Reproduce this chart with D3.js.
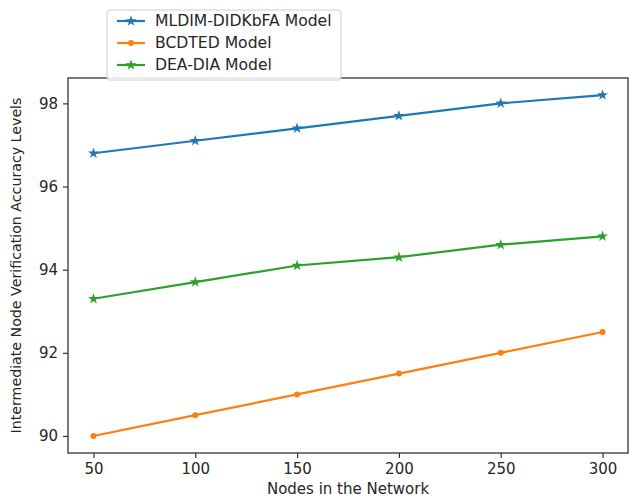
<!DOCTYPE html>
<html>
<head>
<meta charset="utf-8">
<script src="https://cdn.jsdelivr.net/npm/d3@7"></script>
<style>
  body { margin: 0; background: #fff; }
  text { font-family: "DejaVu Sans", sans-serif; fill: #262626; }
</style>
</head>
<body>
<svg width="632" height="498"></svg>
<script>
// data
const nodes = [50, 100, 150, 200, 250, 300];
const mldim = [96.8, 97.1, 97.4, 97.7, 98.0, 98.2];
const bcdted = [90.0, 90.5, 91.0, 91.5, 92.0, 92.5];
const deaDia = [93.3, 93.7, 94.1, 94.3, 94.6, 94.8];
const seriesNames = ['MLDIM-DIDKbFA Model', 'BCDTED Model', 'DEA-DIA Model'];
const yTicks = [90, 92, 94, 96, 98];

const series = [
  {name: seriesNames[0], values: mldim, color: '#1f77b4', marker: 'star'},
  {name: seriesNames[1], values: bcdted, color: '#ff7f0e', marker: 'dot'},
  {name: seriesNames[2], values: deaDia, color: '#2ca02c', marker: 'star'}
];

const svg = d3.select('svg');
const margin = {top: 78, right: 4, bottom: 45, left: 68};
const width = +svg.attr('width');
const height = +svg.attr('height');
const innerWidth = width - margin.left - margin.right;
const innerHeight = height - margin.top - margin.bottom;

const g = svg.append('g')
  .attr('transform', `translate(${margin.left}, ${margin.top})`);

const xScale = d3.scaleLinear()
  .domain([37.5, 312.5])
  .range([0, innerWidth]);

const yScale = d3.scaleLinear()
  .domain([89.59, 98.61])
  .range([innerHeight, 0]);

// axes
const xAxis = g.append('g')
  .attr('transform', `translate(0, ${innerHeight})`)
  .call(d3.axisBottom(xScale).tickValues(nodes).tickSize(5).tickPadding(5));
const yAxis = g.append('g')
  .call(d3.axisLeft(yScale).tickValues(yTicks).tickSize(5).tickPadding(5));

[xAxis, yAxis].forEach(a => {
  a.attr('font-size', 15).attr('font-family', 'DejaVu Sans');
  a.select('.domain').remove();
  a.selectAll('.tick line').attr('stroke', '#333').attr('stroke-width', 1.2);
  a.selectAll('.tick text').attr('fill', '#262626');
});

// frame
g.append('rect')
  .attr('width', innerWidth)
  .attr('height', innerHeight)
  .attr('fill', 'none')
  .attr('stroke', '#333')
  .attr('stroke-width', 1.3);

// axis labels
g.append('text')
  .attr('x', innerWidth / 2)
  .attr('y', innerHeight + 41)
  .attr('text-anchor', 'middle')
  .attr('font-size', 15)
  .text('Nodes in the Network');

g.append('text')
  .attr('transform', `translate(${-47}, ${innerHeight / 2}) rotate(-90)`)
  .attr('text-anchor', 'middle')
  .attr('font-size', 14.2)
  .text('Intermediate Node Verification Accuracy Levels');

const line = d3.line()
  .x((d, i) => xScale(nodes[i]))
  .y(d => yScale(d));

const star = d3.symbol().type(d3.symbolStar).size(38);

const drawMarker = (sel, s) => {
  if (s.marker === 'star') {
    sel.append('path').attr('d', star).attr('fill', s.color);
  } else {
    sel.append('circle').attr('r', 3).attr('fill', s.color);
  }
};

series.forEach(s => {
  g.append('path')
    .datum(s.values)
    .attr('fill', 'none')
    .attr('stroke', s.color)
    .attr('stroke-width', 2.2)
    .attr('d', line);

  g.selectAll(null)
    .data(s.values)
    .enter()
    .append('g')
      .attr('transform', (d, i) => `translate(${xScale(nodes[i])}, ${yScale(d)})`)
      .each(function() { drawMarker(d3.select(this), s); });
});

// legend
const legend = svg.append('g').attr('transform', 'translate(107, 10)');
legend.append('rect')
  .attr('width', 234)
  .attr('height', 70)
  .attr('rx', 3)
  .attr('fill', 'rgba(255,255,255,0.85)')
  .attr('stroke', '#ccc');

series.forEach((s, i) => {
  const row = legend.append('g').attr('transform', `translate(0, ${11 + i * 22})`);
  row.append('line')
    .attr('x1', 10).attr('x2', 38)
    .attr('stroke', s.color)
    .attr('stroke-width', 2.2);
  drawMarker(row.append('g').attr('transform', 'translate(24, 0)'), s);
  row.append('text')
    .attr('x', 48)
    .attr('dy', '0.35em')
    .attr('font-size', 15.6)
    .text(s.name);
});
</script>
</body>
</html>
